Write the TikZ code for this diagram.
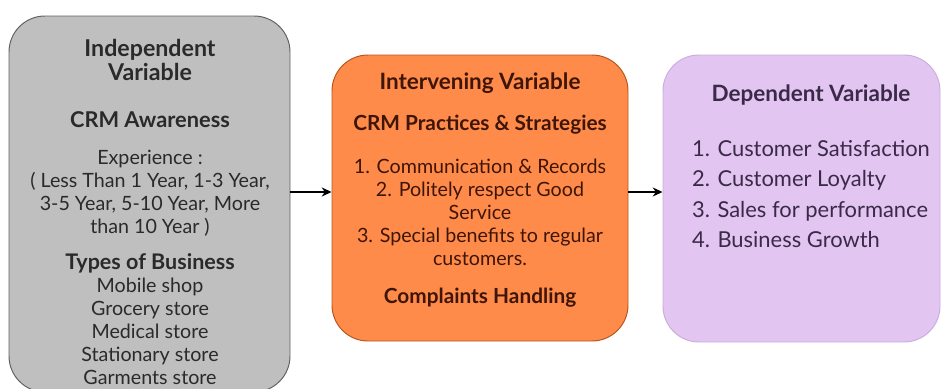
\documentclass[tikz,border=0pt]{standalone}
\usepackage{fontspec}
\setmainfont{Lato}
\usepackage{tikz}
\usetikzlibrary{arrows.meta}

\definecolor{indepfill}{HTML}{BFBFBF}
\definecolor{indepdraw}{HTML}{626262}
\definecolor{indeptext}{HTML}{2A2A2A}
\definecolor{intervfill}{HTML}{FF8B4A}
\definecolor{intervdraw}{HTML}{B9561E}
\definecolor{intervtext}{HTML}{3E1507}
\definecolor{depfill}{HTML}{E2C6F1}
\definecolor{depdraw}{HTML}{CBAEDB}
\definecolor{deptext}{HTML}{3A2A47}

\tikzset{
  every box/.style={rounded corners=0.9cm, line width=0.7pt},
  box indep/.style={every box, fill=indepfill, draw=indepdraw,
    minimum width=7.025cm, minimum height=9.4cm},
  box interv/.style={every box, fill=intervfill, draw=intervdraw,
    minimum width=7.4cm, minimum height=7.15cm},
  box dep/.style={every box, fill=depfill, draw=depdraw,
    minimum width=6.925cm, minimum height=7.175cm},
  head/.style={align=center, font=\fontsize{16.5}{17.7}\selectfont\bfseries},
  sub/.style={align=center, font=\fontsize{14.8}{16.3}\selectfont\bfseries},
  body/.style={align=center, font=\fontsize{14}{16.3}\selectfont},
  link/.style={->, line width=0.9pt},
}

\begin{document}
\begin{tikzpicture}[x=1cm, y=1cm, >={Stealth[length=7pt,width=6.5pt]}, scale=1.0]

\useasboundingbox (0,0) rectangle (23.6,-9.725);

% Caixas das variaveis.

\node [box indep] (indep) at (3.7375,-5.1) {};
\node [box interv] (interv) at (12.0,-4.95) {};
\node [box dep] (dep) at (20.0375,-4.9625) {};

% Textos da variavel independente.

\node [head, text=indeptext] (indep-title) at (3.75,-1.5) {Independent\\Variable};
\node [sub, text=indeptext, font=\fontsize{15.5}{17}\selectfont\bfseries] (indep-crm) at (3.75,-3.0) {CRM Awareness};
\node [body, text=indeptext] (indep-exp) at (3.75,-4.83)
  {Experience :\\( Less Than 1 Year, 1-3 Year,\\3-5 Year, 5-10 Year, More\\than 10 Year )};
\node [sub, text=indeptext, font=\fontsize{15.3}{17}\selectfont\bfseries] (indep-types) at (3.75,-6.575) {Types of Business};
\node [body, text=indeptext] (indep-list) at (3.75,-8.29)
  {Mobile shop\\Grocery store\\Medical store\\Stationary store\\Garments store};

% Textos da variavel interveniente.

\node [head, text=intervtext, font=\fontsize{16}{17.7}\selectfont\bfseries] (interv-title) at (12.0,-2.075) {Intervening Variable};
\node [sub, text=intervtext] (interv-crm) at (12.0,-3.125) {CRM Practices \& Strategies};
\node [body, text=intervtext] (interv-list) at (12.0,-5.315)
  {1. Communication \& Records\\2. Politely respect Good\\Service\\3. Special benefits to regular\\customers.};
\node [sub, text=intervtext] (interv-comp) at (12.0,-7.45) {Complaints Handling};

% Textos da variavel dependente.

\node [head, text=deptext, font=\fontsize{16}{17.7}\selectfont\bfseries] (dep-title) at (20.275,-2.375) {Dependent Variable};
\node [align=left, text=deptext, font=\fontsize{15.6}{21.7}\selectfont] (dep-list) at (20.275,-4.85)
  {1. Customer Satisfaction\\2. Customer Loyalty\\3. Sales for performance\\4. Business Growth};

% Setas.

\draw [link] ([yshift=0.15cm]interv.west -| indep.east) -- ([yshift=0.15cm]interv.west);
\draw [link] ([yshift=0.15cm]interv.east) -- ([yshift=0.15cm]interv.east -| dep.west);

\end{tikzpicture}
\end{document}
